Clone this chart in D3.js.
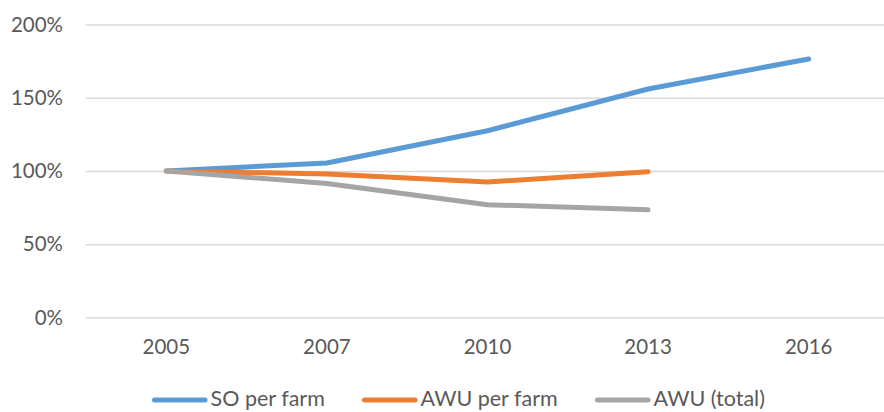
<!DOCTYPE html>
<html><head><meta charset="utf-8">
<script src="https://cdn.jsdelivr.net/npm/d3@7"></script>
<style>
html,body{margin:0;padding:0;background:#fff;}
svg text{font-family:Lato,"Liberation Sans",sans-serif;fill:#595959;}
</style></head>
<body>
<svg id="chart" width="884" height="412"></svg>
<script>
const categories = ["2005","2007","2010","2013","2016"];
const seriesNames = ["SO per farm","AWU per farm","AWU (total)"];
const soPerFarm = [100, 105.5, 127.5, 156, 176.5];
const awuPerFarm = [100, 98, 92.5, 99.5, null];
const awuTotal = [100, 91.5, 77, 73.5, null];
const yTicks = [0, 50, 100, 150, 200];
const colors = ["#5B9BD5","#ED7D31","#A5A5A5"];

(function () {
const series = [soPerFarm, awuPerFarm, awuTotal];
const svg = d3.select("#chart");
const pl = 86, pr = 889, pt = 24.5, pb = 317.5;

const x = d3.scaleBand().domain(categories).range([pl, pr]);
const y = d3.scaleLinear().domain([0, 200]).range([pb, pt]);

const yAxis = d3.axisLeft(y).tickValues(yTicks).tickSize(-(pr-pl)).tickPadding(23)
  .tickFormat(d => d + "%");
const gy = svg.append("g").attr("transform", `translate(${pl},0)`).call(yAxis);
gy.select(".domain").remove();
gy.selectAll(".tick line").attr("stroke", "#D9D9D9").attr("stroke-width", 1.5);
gy.selectAll(".tick text").style("font-size", "20.5px").attr("fill", "#595959");

const xAxis = d3.axisBottom(x).tickSize(0).tickPadding(22);
const gx = svg.append("g").attr("transform", `translate(0,${pb})`).call(xAxis);
gx.select(".domain").remove();
gx.selectAll(".tick text").style("font-size", "20.5px").attr("fill", "#595959");

const line = d3.line()
  .defined(d => d.v !== null)
  .x(d => x(d.c) + x.bandwidth()/2)
  .y(d => y(d.v));
series.forEach((s, i) => {
  const data = categories.map((c, j) => ({c, v: s[j]}));
  svg.append("path").datum(data)
    .attr("d", line)
    .attr("fill", "none")
    .attr("stroke", colors[i])
    .attr("stroke-width", 5)
    .attr("stroke-linecap", "round")
    .attr("stroke-linejoin", "round");
});

const legendX = [152, 362, 595];
const legendY = 400;
seriesNames.forEach((n, i) => {
  const g = svg.append("g");
  g.append("line")
    .attr("x1", legendX[i] + 2.5).attr("x2", legendX[i] + 53)
    .attr("y1", legendY).attr("y2", legendY)
    .attr("stroke", colors[i]).attr("stroke-width", 5).attr("stroke-linecap", "round");
  g.append("text").attr("x", legendX[i] + 58.5).attr("y", legendY)
    .attr("dy", "0.3em").style("font-size", "21.5px").text(n);
});
})();
</script>
</body></html>
